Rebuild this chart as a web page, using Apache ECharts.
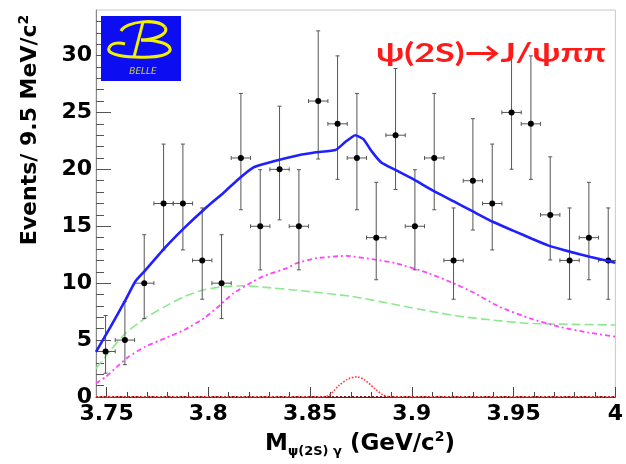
<!DOCTYPE html>
<html>
<head>
<meta charset="utf-8">
<script src="https://cdn.jsdelivr.net/npm/echarts@6.0.0/dist/echarts.min.js"></script>
<style>
html,body{margin:0;padding:0;background:#fff;}
#chart{width:626px;height:464px;}
</style>
</head>
<body>
<div id="chart"></div>
<script>
// ---- data ----
const binCenters = [3.7495, 3.7590, 3.7685, 3.7780, 3.7875, 3.7970, 3.8065, 3.8160, 3.8255, 3.8350,
                    3.8445, 3.8540, 3.8635, 3.8730, 3.8825, 3.8920, 3.9015, 3.9110, 3.9205, 3.9300,
                    3.9395, 3.9490, 3.9585, 3.9680, 3.9775, 3.9870, 3.9965];
const counts = [4, 5, 10, 17, 17, 12, 10, 21, 15, 20, 15, 26, 24, 21, 14, 23, 15, 21, 12, 19, 17, 25, 24, 16, 12, 14, 12];
const errLow = [1.91, 2.16, 3.11, 4.08, 4.08, 3.41, 3.11, 4.55, 3.83, 4.44, 3.83, 5.09, 4.88, 4.55, 3.70, 4.77, 3.83, 4.55, 3.41, 4.33, 4.08, 4.99, 4.88, 3.96, 3.41, 3.70, 3.41];
const errHigh = [3.16, 3.38, 4.26, 5.22, 5.22, 4.61, 4.26, 5.67, 4.97, 5.55, 4.97, 6.17, 5.97, 5.67, 4.86, 5.86, 4.97, 5.67, 4.61, 5.45, 5.22, 6.07, 5.97, 5.10, 4.61, 4.86, 4.61];
const binHalfWidth = 0.00475;

const totalFit = [[3.7448,3.97],[3.7520,6.18],[3.7593,8.53],[3.7641,10.15],[3.7689,11.1],[3.7786,13.1],
  [3.7882,14.86],[3.7979,16.48],[3.8075,17.95],[3.8156,19.27],[3.8220,20.16],[3.8268,20.45],[3.8384,21.0],
  [3.8432,21.2],[3.8529,21.5],[3.8625,21.7],[3.8673,22.4],[3.8722,23.0],[3.8762,22.66],[3.8802,21.6],
  [3.8850,20.6],[3.8914,20.0],[3.9011,19.1],[3.9107,18.1],[3.9204,17.2],[3.9300,16.3],[3.9397,15.4],
  [3.9500,14.6],[3.9590,13.9],[3.9672,13.3],[3.9780,12.75],[3.9879,12.3],[4.0000,11.8]];
const bkgGreen = [[3.7448,2.5],[3.7520,4.12],[3.7593,5.6],[3.7689,6.92],[3.7786,7.94],[3.7882,8.83],
  [3.7979,9.42],[3.8075,9.7],[3.8171,9.77],[3.8268,9.65],[3.8450,9.35],[3.8700,8.85],[3.8924,8.1],
  [3.9100,7.5],[3.9246,7.06],[3.9400,6.75],[3.9571,6.47],[3.9800,6.38],[4.0000,6.33]];
const bkgMagenta = [[3.7448,1.18],[3.7496,1.77],[3.7560,2.8],[3.7608,3.53],[3.7689,4.41],[3.7786,5.15],
  [3.7882,5.89],[3.7979,6.92],[3.8059,8.09],[3.8123,9.12],[3.8220,10.15],[3.8268,10.6],[3.8387,11.33],
  [3.8435,11.77],[3.8532,12.2],[3.8677,12.4],[3.8822,12.06],[3.8918,11.77],[3.9079,10.9],[3.9204,10.0],
  [3.9300,9.2],[3.9429,7.94],[3.9580,6.9],[3.9722,6.18],[3.9870,5.65],[4.0000,5.3]];
const signalRed = [[3.7448,0],[3.8550,0],[3.8593,0.15],[3.8641,1.0],[3.8689,1.6],[3.8730,1.77],[3.8770,1.47],
  [3.8818,0.74],[3.8858,0.2],[3.8900,0],[4.0000,0]];
const zeroLine = [[3.7448,0],[4.0000,0]];

const xMajorTicks = [3.75, 3.8, 3.85, 3.9, 3.95, 4.0];
const xMinorTicks = [3.76,3.77,3.78,3.79,3.81,3.82,3.83,3.84,3.86,3.87,3.88,3.89,3.91,3.92,3.93,3.94,3.96,3.97,3.98,3.99];
const yMajorTicks = [0, 5, 10, 15, 20, 25, 30];
const yMinorTicks = [1,2,3,4,6,7,8,9,11,12,13,14,16,17,18,19,21,22,23,24,26,27,28,29,31,32,33];

const X_MIN = 3.7448, X_MAX = 4.0, Y_MIN = 0, Y_MAX = 34;

// ---- chart ----
const chart = echarts.init(document.getElementById('chart'), null, {renderer: 'canvas'});
const labelFont = {fontFamily: 'DejaVu Sans', fontWeight: 'bold', fontSize: 22, color: '#000'};

const errData = counts.map((c, i) => [binCenters[i], c, errLow[i], errHigh[i]]);

const logoStroke = {stroke: '#f2f200', lineWidth: 3, fill: null};
function bez(p) {
  return {type: 'bezierCurve', z: 11,
    shape: {x1: p[0], y1: p[1], cpx1: p[2], cpy1: p[3], cpx2: p[4], cpy2: p[5], x2: p[6], y2: p[7]},
    style: logoStroke};
}

const option = {
  animation: false,
  backgroundColor: '#fff',
  grid: {left: 96, right: 1, top: 10, bottom: 67, show: true, borderColor: '#c8c8c8', borderWidth: 1},
  xAxis: [
    {type: 'value', min: X_MIN, max: X_MAX, position: 'bottom',
     axisLine: {show: true, lineStyle: {color: '#333', width: 1}},
     axisTick: {show: true, inside: true, length: 10, customValues: xMajorTicks, lineStyle: {color: '#444'}},
     axisLabel: Object.assign({show: true, margin: 6, customValues: xMajorTicks,
       formatter: v => String(+(+v).toFixed(2))}, labelFont),
     splitLine: {show: false}},
    {type: 'value', min: X_MIN, max: X_MAX, position: 'bottom',
     axisLine: {show: false},
     axisTick: {show: true, inside: true, length: 5, customValues: xMinorTicks, lineStyle: {color: '#444'}},
     axisLabel: {show: false}, splitLine: {show: false}}
  ],
  yAxis: [
    {type: 'value', min: Y_MIN, max: Y_MAX, position: 'left',
     axisLine: {show: true, lineStyle: {color: '#888', width: 1}},
     axisTick: {show: true, inside: true, length: 15, customValues: yMajorTicks, lineStyle: {color: '#555'}},
     axisLabel: Object.assign({show: true, margin: 4, customValues: yMajorTicks}, labelFont),
     splitLine: {show: false}},
    {type: 'value', min: Y_MIN, max: Y_MAX, position: 'left',
     axisLine: {show: false},
     axisTick: {show: true, inside: true, length: 8, customValues: yMinorTicks, lineStyle: {color: '#555'}},
     axisLabel: {show: false}, splitLine: {show: false}}
  ],
  series: [
    {type: 'line', data: zeroLine, showSymbol: false, z: 2,
     lineStyle: {color: '#8b1010', width: 2, type: 'dotted'}},
    {type: 'line', data: bkgGreen, showSymbol: false, smooth: 0.2, z: 3,
     lineStyle: {color: '#8fe88f', width: 1.6, type: [9, 4]}},
    {type: 'line', data: bkgMagenta, showSymbol: false, smooth: 0.15, z: 3,
     lineStyle: {color: '#ff44ff', width: 1.8, type: [5, 3, 2, 3]}},
    {type: 'line', data: signalRed, showSymbol: false, smooth: 0.3, z: 3,
     lineStyle: {color: '#ff3a3a', width: 1.6, type: 'dotted'}},
    {type: 'custom', data: errData, clip: true, z: 4,
     renderItem: function (params, api) {
       const x = api.value(0), y = api.value(1), lo = api.value(2), hi = api.value(3);
       const c = api.coord([x, y]);
       const top = api.coord([x, y + hi]);
       const bot = api.coord([x, y - lo]);
       const l = api.coord([x - binHalfWidth, y]);
       const r = api.coord([x + binHalfWidth, y]);
       const st = {stroke: '#555', lineWidth: 1};
       return {type: 'group', children: [
         {type: 'line', shape: {x1: c[0], y1: top[1], x2: c[0], y2: bot[1]}, style: st},
         {type: 'line', shape: {x1: c[0]-2, y1: top[1], x2: c[0]+2, y2: top[1]}, style: st},
         {type: 'line', shape: {x1: c[0]-2, y1: bot[1], x2: c[0]+2, y2: bot[1]}, style: st},
         {type: 'line', shape: {x1: l[0], y1: c[1], x2: r[0], y2: c[1]}, style: st},
         {type: 'line', shape: {x1: l[0], y1: c[1]-2, x2: l[0], y2: c[1]+2}, style: st},
         {type: 'line', shape: {x1: r[0], y1: c[1]-2, x2: r[0], y2: c[1]+2}, style: st},
         {type: 'circle', shape: {cx: c[0], cy: c[1], r: 3}, style: {fill: '#000'}}
       ]};
     }},
    {type: 'line', data: totalFit, showSymbol: false, smooth: 0.15, z: 5,
     lineStyle: {color: '#2020ff', width: 2.6}}
  ],
  graphic: [
    // Belle logo
    {type: 'rect', shape: {x: 101, y: 16, width: 80, height: 65}, style: {fill: '#0d0df2'}, z: 10},
    bez([121, 31, 126, 21, 158, 18, 165, 27]),
    bez([165, 27, 170, 35, 152, 40, 141, 40]),
    bez([141, 40, 176, 40, 180, 56, 150, 57]),
    bez([150, 57, 126, 58, 106, 55, 109, 48]),
    bez([109, 48, 111, 43, 118, 42, 125, 44]),
    {type: 'line', z: 11, shape: {x1: 143, y1: 22, x2: 134, y2: 57}, style: logoStroke},
    {type: 'text', z: 11, x: 143, y: 72,
     style: {text: 'BELLE', fontFamily: 'DejaVu Sans', fontStyle: 'italic', fontSize: 9,
             fill: '#cfcf40', align: 'center', verticalAlign: 'middle'}},
    // Process label
    {type: 'text', z: 11, x: 376, y: 53, scaleX: 1.33,
     style: {text: 'ψ(2S)→J/ψππ', fontFamily: 'Lato', fontWeight: 'bold', fontSize: 27,
             fill: '#ff1a1a', align: 'left', verticalAlign: 'middle'}},
    // Y axis title
    {type: 'text', z: 11, x: 30, y: 130, rotation: Math.PI / 2,
     style: {text: '{m|Events/ 9.5 MeV/c}{sup|2}', align: 'center', verticalAlign: 'middle',
             rich: {m: {fontFamily: 'DejaVu Sans', fontWeight: 'bold', fontSize: 22, fill: '#000', lineHeight: 26},
                    sup: {fontFamily: 'DejaVu Sans', fontWeight: 'bold', fontSize: 14, fill: '#000', verticalAlign: 'top', lineHeight: 14}}}},
    // X axis title
    {type: 'text', z: 11, x: 360, y: 444,
     style: {text: '{m|M}{s|ψ(2S) γ}{m| (GeV/c}{sup|2}{m|)}', align: 'center', verticalAlign: 'middle',
             rich: {m: {fontFamily: 'DejaVu Sans', fontWeight: 'bold', fontSize: 23, fill: '#000', lineHeight: 28},
                    s: {fontFamily: 'DejaVu Sans', fontWeight: 'bold', fontSize: 13, fill: '#000', verticalAlign: 'bottom', lineHeight: 13},
                    sup: {fontFamily: 'DejaVu Sans', fontWeight: 'bold', fontSize: 14, fill: '#000', verticalAlign: 'top', lineHeight: 14}}}}
  ]
};
chart.setOption(option);
</script>
</body>
</html>
